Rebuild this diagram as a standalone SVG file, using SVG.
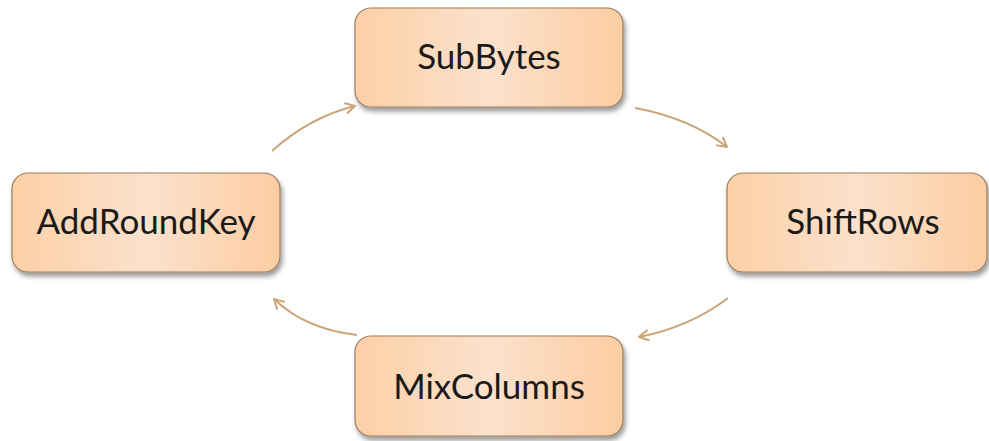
<svg xmlns="http://www.w3.org/2000/svg" width="989" height="441" viewBox="0 0 989 441">
  <defs>
    <linearGradient id="fillH" x1="0" y1="0" x2="1" y2="0">
      <stop offset="0" stop-color="#fdd0a6"/>
      <stop offset="0.5" stop-color="#fbe1cc"/>
      <stop offset="1" stop-color="#fdcda2"/>
    </linearGradient>
    <filter id="shadow" x="-10%" y="-10%" width="125%" height="135%">
      <feGaussianBlur in="SourceAlpha" stdDeviation="2.5"/>
      <feOffset dx="2" dy="4" result="b"/>
      <feComponentTransfer><feFuncA type="linear" slope="0.4"/></feComponentTransfer>
      <feMerge><feMergeNode/><feMergeNode in="SourceGraphic"/></feMerge>
    </filter>
    <marker id="head" viewBox="0 0 12 12" refX="10" refY="6" markerWidth="12" markerHeight="12" markerUnits="userSpaceOnUse" orient="auto">
      <path d="M1,1 L10,6 L1,11" fill="none" stroke="#c9a578" stroke-width="2" stroke-linecap="round" stroke-linejoin="round"/>
    </marker>
  </defs>
  <style>
    .box { fill: url(#fillH); stroke: #9c7d5e; stroke-width: 1.2; filter: url(#shadow); }
    .label { font-family: Lato, "Open Sans", "Liberation Sans", sans-serif; font-size: 35px; fill: #1a1a1a; text-anchor: middle; }
    .arc { fill: none; stroke: #c9a578; stroke-width: 2; marker-end: url(#head); }
  </style>
  <rect width="989" height="441" fill="#ffffff"/>

  <g id="connectors">
    <path class="arc" d="M272,151 Q310,117 355,106"/>
    <path class="arc" d="M635,108 Q690,118 727,147"/>
    <path class="arc" d="M728,298 Q690,327 639,337"/>
    <path class="arc" d="M357,335 Q305,329 274,299"/>
  </g>

  <g id="subbytes">
    <rect class="box" x="355" y="8" width="268" height="99" rx="16"/>
    <text class="label" x="489" y="69">SubBytes</text>
  </g>
  <g id="shiftrows">
    <rect class="box" x="727" y="173" width="260" height="99" rx="16"/>
    <text class="label" x="863" y="234">ShiftRows</text>
  </g>
  <g id="mixcolumns">
    <rect class="box" x="355" y="336" width="268" height="100" rx="16"/>
    <text class="label" x="489" y="399">MixColumns</text>
  </g>
  <g id="addroundkey">
    <rect class="box" x="12" y="173" width="268" height="99" rx="16"/>
    <text class="label" x="146" y="234">AddRoundKey</text>
  </g>
</svg>
